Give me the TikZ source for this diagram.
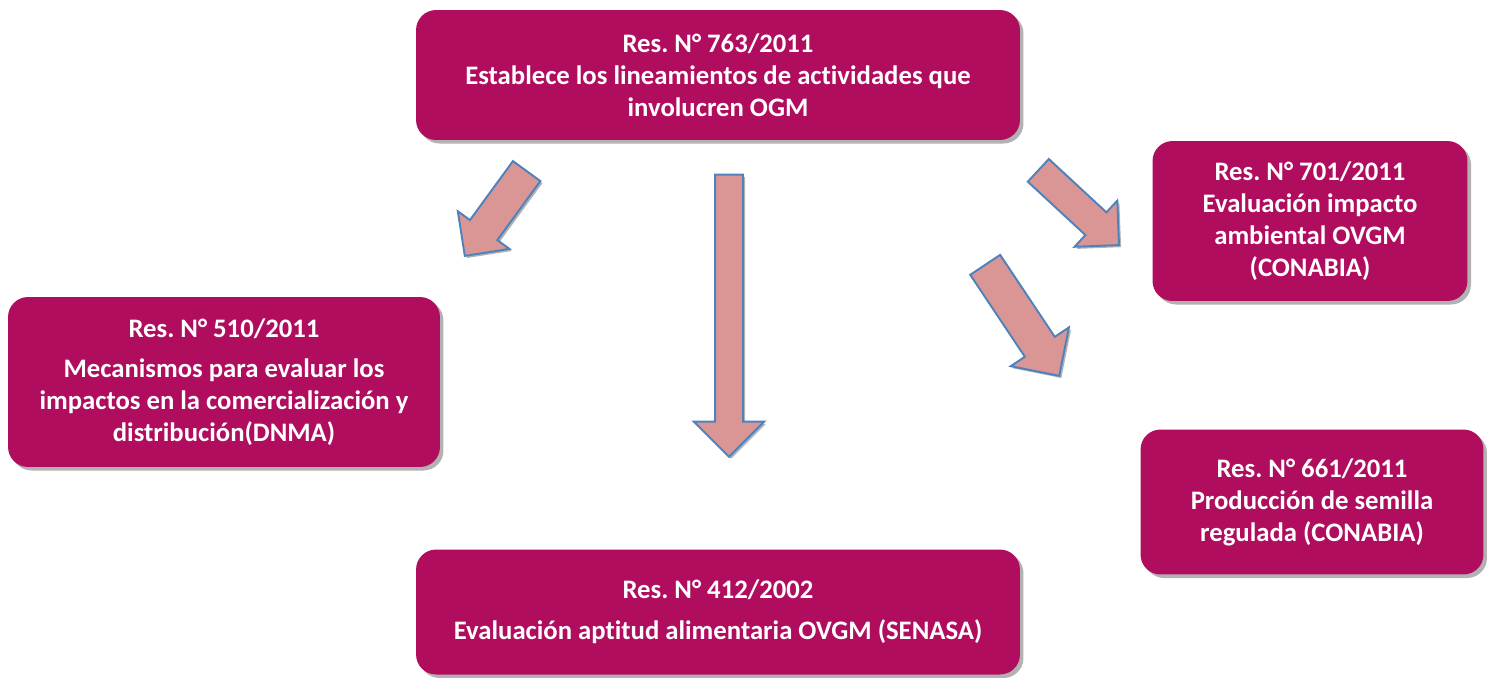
\documentclass[tikz,border=0pt]{standalone}
\usepackage{fontspec}
\setmainfont{Carlito}[Ligatures=NoCommon]
\usetikzlibrary{shapes.arrows,shadows}
\definecolor{resmag}{HTML}{B00D5F}
\definecolor{flechafill}{HTML}{D99694}
\definecolor{flechaline}{HTML}{4F81BD}
\frenchspacing
\begin{document}
\begin{tikzpicture}[x=0.02cm,y=-0.02cm,
    res/.style={rectangle, rounded corners=0.4cm, fill=resmag, text=white,
      font=\fontsize{15.2}{18.2}\selectfont\bfseries, align=center, inner sep=0pt,
      drop shadow={shadow xshift=2pt, shadow yshift=-2pt, fill=black, opacity=0.3}},
    flecha/.style={single arrow, fill=flechafill, draw=flechaline, line width=1.1pt,
      inner xsep=0pt, anchor=tip,
      drop shadow={shadow xshift=1.2pt, shadow yshift=-1.2pt, fill=black, opacity=0.3}}]
  \useasboundingbox (0,0) rectangle (1491,677);

  % resoluciones
  \node[res, minimum width=12.08cm, minimum height=2.6cm] (R763) at (718,75)
    {Res. N° 763/2011\\Establece los lineamientos de actividades que\\involucren OGM};
  \node[res, minimum width=8.64cm, minimum height=3.4cm] (R510) at (224,382)
    {Res. N° 510/2011\\[5pt]Mecanismos para evaluar los\\impactos en la comercialización y\\distribución(DNMA)};
  \node[res, minimum width=12.08cm, minimum height=2.5cm] (R412) at (718,612)
    {Res. N° 412/2002\\[5pt]Evaluación aptitud alimentaria OVGM (SENASA)};
  \node[res, minimum width=6.3cm, minimum height=3.2cm] (R701) at (1310,221)
    {Res. N° 701/2011\\Evaluación impacto\\ambiental OVGM\\(CONABIA)};
  \node[res, minimum width=6.86cm, minimum height=2.9cm] (R661) at (1312,502)
    {Res. N° 661/2011\\Producción de semilla\\regulada (CONABIA)};

  % flechas
  \node[flecha, rotate=233.9, minimum height=2.1cm, inner ysep=0.32cm,
    single arrow head extend=0.3cm] (F510) at (464,257) {};
  \node[flecha, rotate=270, minimum height=5.64cm, inner ysep=0.26cm,
    single arrow head extend=0.42cm] (F412) at (729,458) {};
  \node[flecha, rotate=-42.8, minimum height=2.2cm, inner ysep=0.29cm,
    single arrow head extend=0.32cm] (F701) at (1120,246) {};
  \node[flecha, rotate=-56.3, minimum height=2.67cm, inner ysep=0.34cm,
    single arrow head extend=0.34cm] (F661) at (1060,377) {};
\end{tikzpicture}
\end{document}
